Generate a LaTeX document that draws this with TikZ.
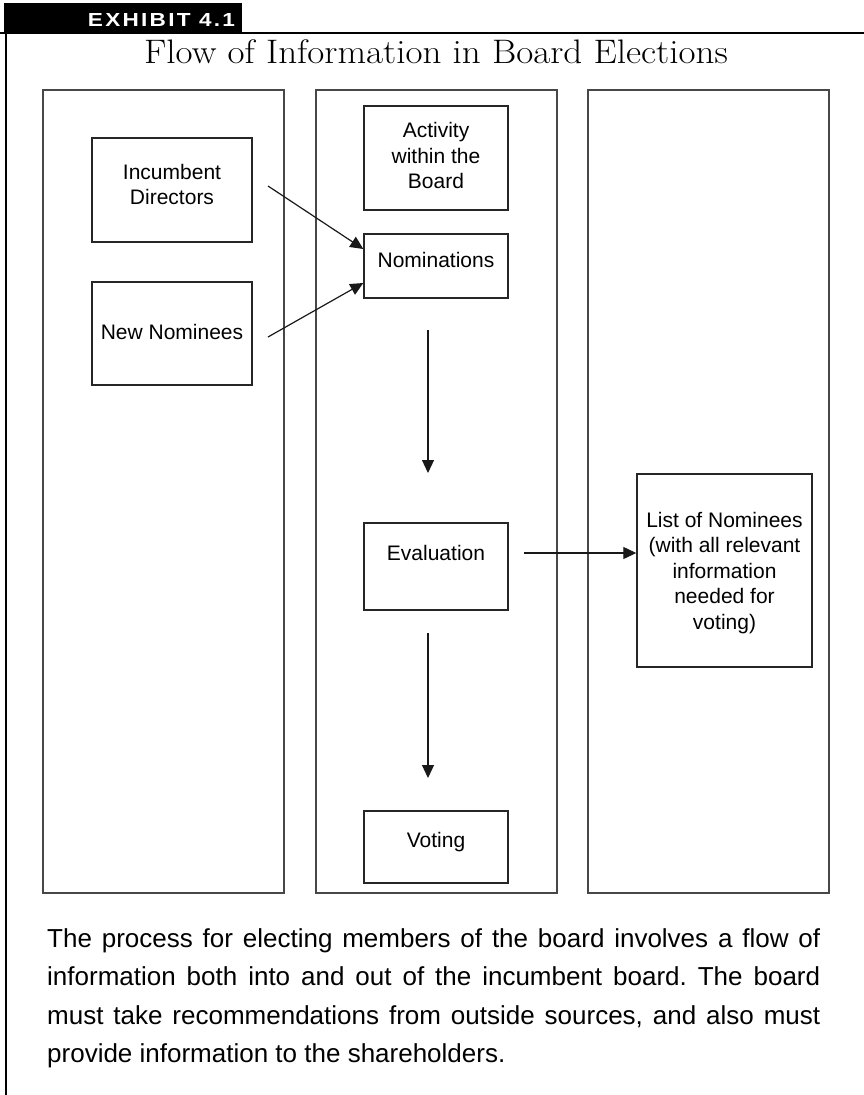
\documentclass[tikz,border=0pt]{standalone}
\usepackage{fontspec}
\newfontfamily\boxfont{Liberation Sans}
\newfontfamily\tabfont[LetterSpace=10]{Liberation Sans}
\newfontfamily\titlefont[FakeStretch=1.09]{Latin Modern Roman}
\usetikzlibrary{arrows.meta,calc}

\begin{document}
\frenchspacing
\begin{tikzpicture}[x=1pt,y=-1pt,
  panel/.style={draw=black!72, line width=1.3pt},
  stage/.style={draw=black!85, line width=1.4pt, rectangle, inner sep=0pt},
  lbl/.style={font=\boxfont\fontsize{21}{25.5}\selectfont, align=center, inner sep=0pt},
  flow/.style={draw=black!90, line width=1.2pt, -{Triangle[length=13pt,width=12pt]}},
]
\useasboundingbox (0,0) rectangle (864,1095);
\fill[white] (0,0) rectangle (864,1095);

% exhibit tab and frame rules
\fill[black] (4,3) rectangle (242,33);
\node[white, inner sep=0pt] (tab) at (161.5,19.5) {\resizebox{147pt}{13pt}{\tabfont\bfseries EXHIBIT 4.1}};
\draw[line width=2.6pt] (0,33) -- (864,33);
\draw[line width=2.6pt] (6,33) -- (6,1095);

% title
\node[anchor=base, inner sep=0pt, font=\titlefont\fontsize{34}{40}\selectfont] (title) at (436,63) {Flow of Information in Board Elections};

% three columns
\draw[panel] (43,90) rectangle (284,893);
\draw[panel] (316,90) rectangle (557,893);
\draw[panel] (588,90) rectangle (829,893);

% boxes
\node[stage, minimum width=160pt, minimum height=104pt,
  label={[lbl, yshift=5.5pt]center:{Incumbent\\Directors}}] (inc) at (172,190) {};
\node[stage, minimum width=160pt, minimum height=103pt,
  label={[lbl, yshift=1.5pt]center:{New Nominees}}] (newn) at (172,333.5) {};
\node[stage, minimum width=144pt, minimum height=104pt,
  label={[lbl, yshift=2.5pt]center:{Activity\\within the\\Board}}] (act) at (436,158) {};
\node[stage, minimum width=144pt, minimum height=64pt,
  label={[lbl, yshift=6pt]center:{Nominations}}] (nom) at (436,266) {};
\node[stage, minimum width=144pt, minimum height=87pt,
  label={[lbl, yshift=13.5pt]center:{Evaluation}}] (eval) at (436,566.5) {};
\node[stage, minimum width=144pt, minimum height=72pt,
  label={[lbl, yshift=5pt]center:{Voting}}] (vote) at (436,847) {};
\node[stage, minimum width=175pt, minimum height=193pt,
  label={[lbl, yshift=-2.5pt]center:{List of Nominees\\(with all relevant\\information\\needed for\\voting)}}] (list) at (724.5,570.5) {};

% connectors
\coordinate (incout) at (268,186);
\coordinate (newout) at (268,337);
\coordinate (downAtop) at (428,330);
\coordinate (downAend) at (428,473);
\coordinate (downBtop) at (428,633);
\coordinate (downBend) at (428,778);
\coordinate (evalout) at (524,553);
\draw[flow] (incout) -- ($(nom.west)+(0,-17)$);
\draw[flow] (newout) -- ($(nom.west)+(0,17)$);
\draw[flow] (downAtop) -- (downAend);
\draw[flow] (downBtop) -- (downBend);
\draw[flow] (evalout) -- (evalout -| list.west);

% caption
\node[anchor=north west, text width=773pt, align=justify, inner sep=0pt,
  font=\boxfont\fontsize{26}{38.5}\selectfont] (caption) at (47,928)
  {The process for electing members of the board involves a flow of\linebreak
   information both into and out of the incumbent board. The board\linebreak
   must take recommendations from outside sources, and also must\linebreak
   provide information to the shareholders.};
\end{tikzpicture}
\end{document}
